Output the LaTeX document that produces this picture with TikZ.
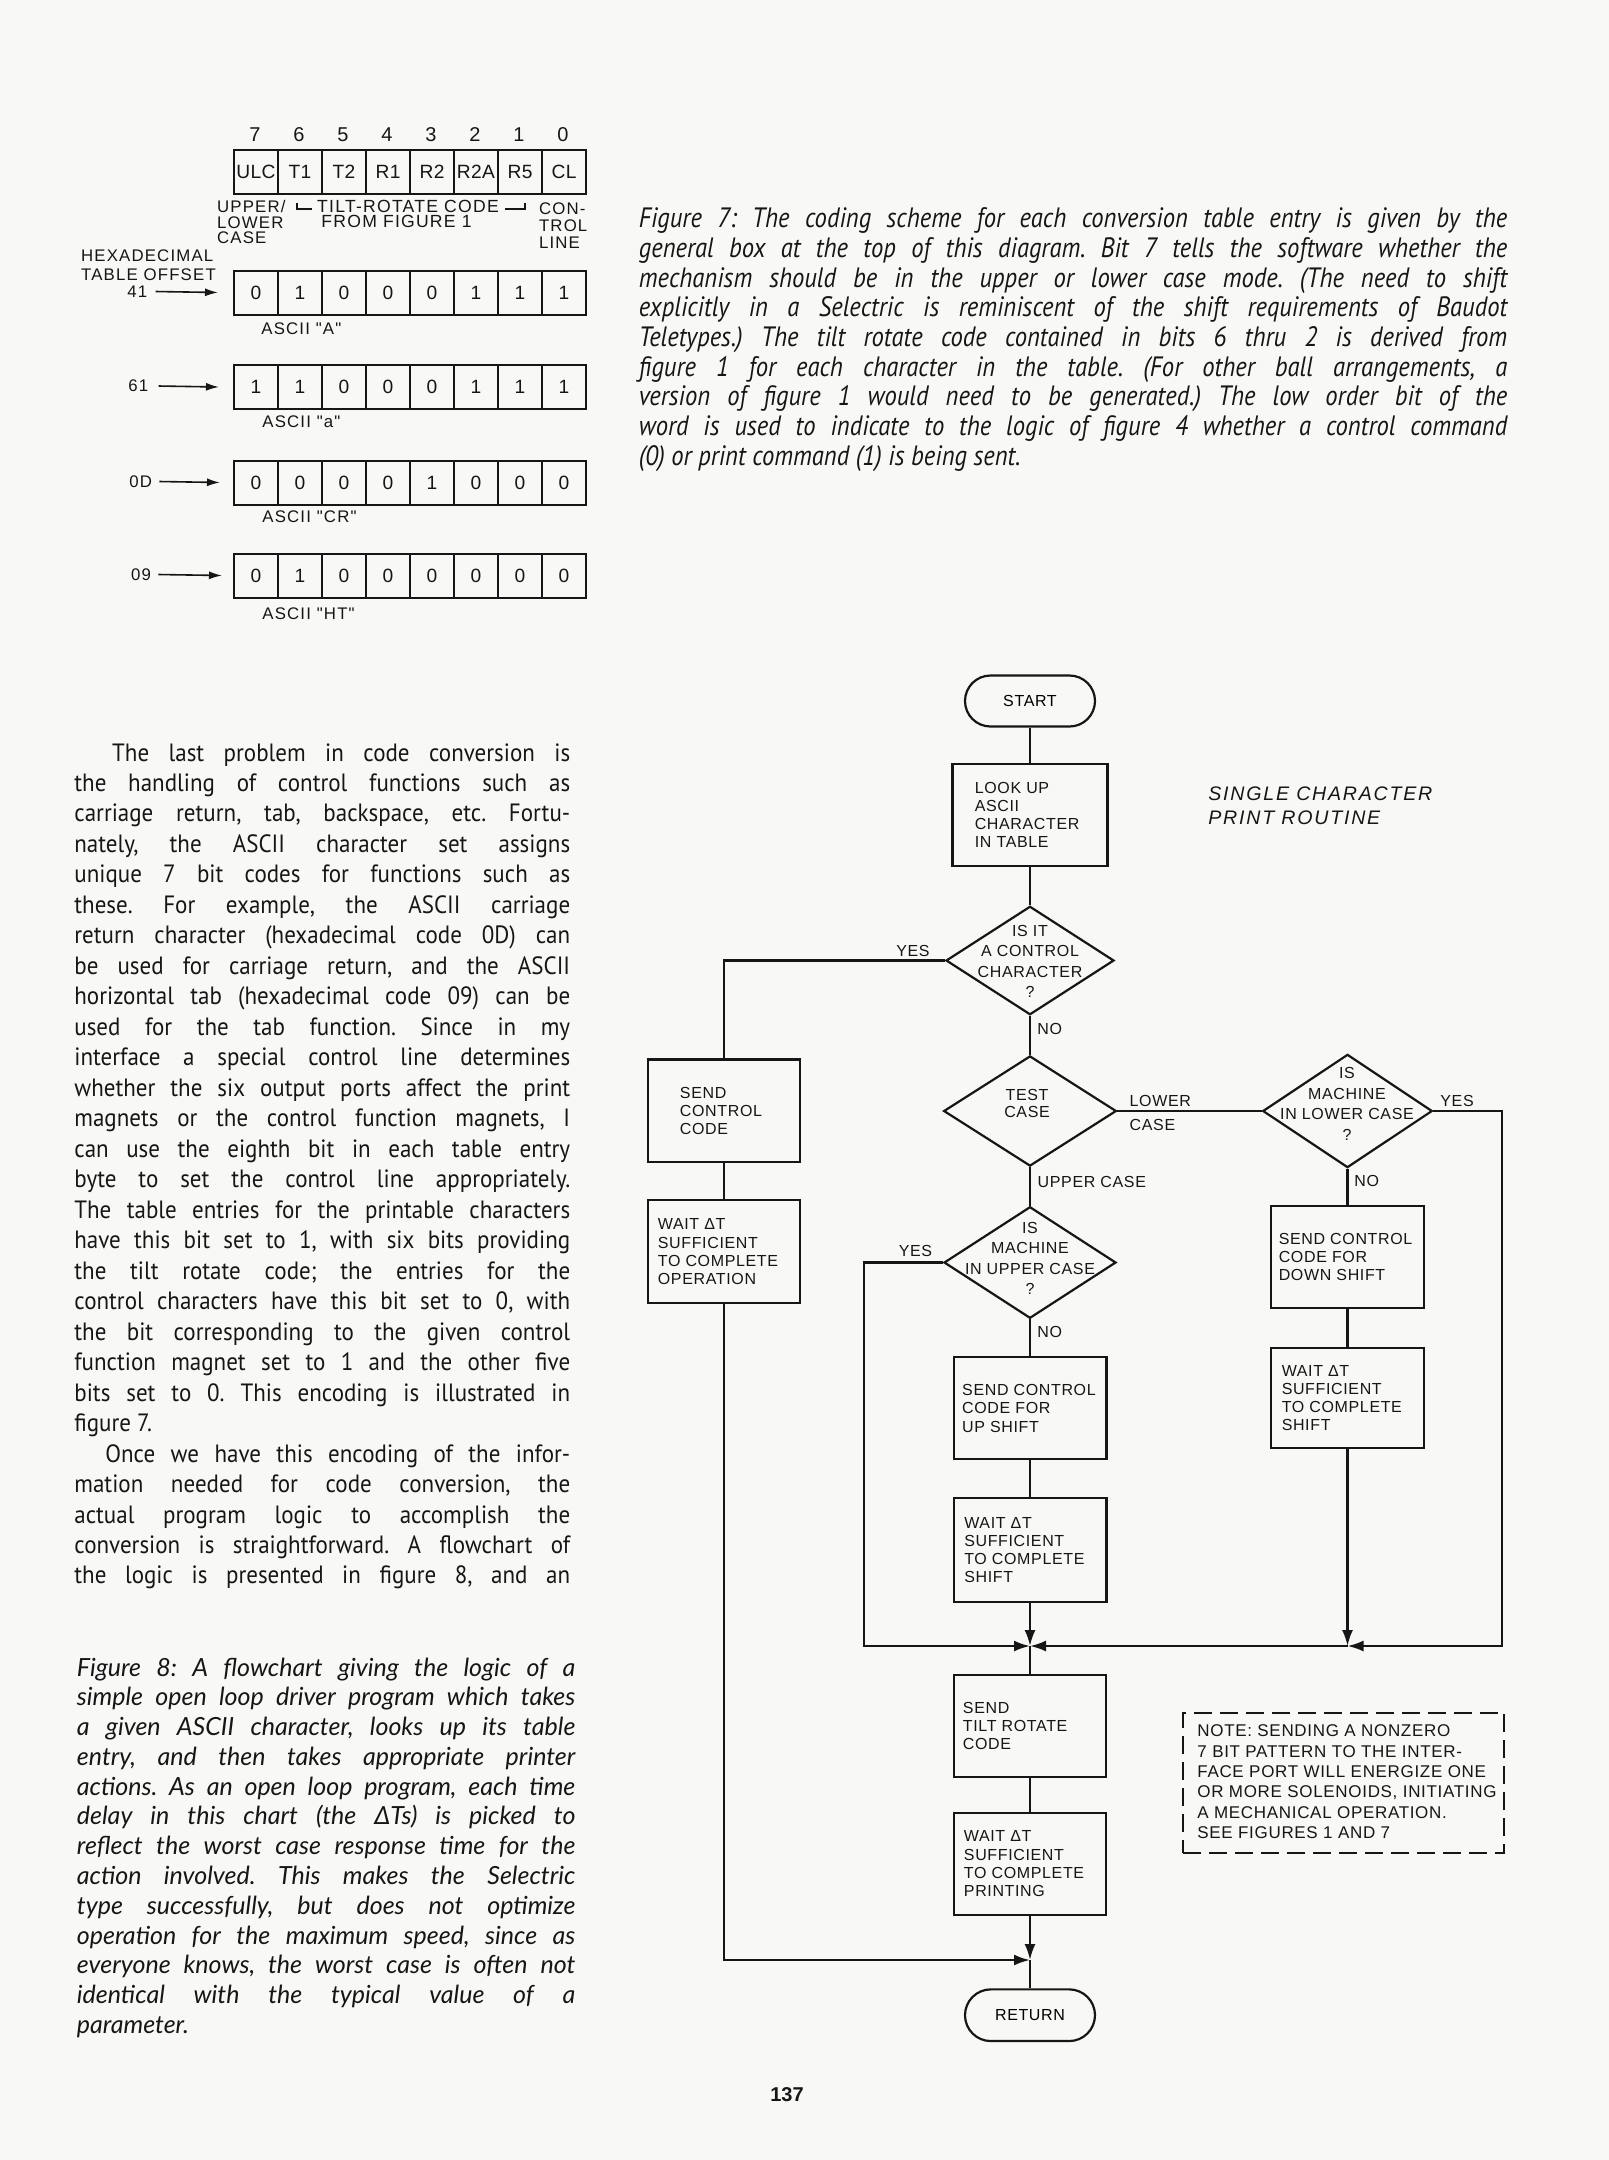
\documentclass[tikz,border=0pt]{standalone}
\usepackage{fontspec}
\usetikzlibrary{shapes.geometric,shapes.misc,arrows.meta,calc}
\setmainfont{Liberation Sans}
\newfontfamily\fcfont[LetterSpace=4]{Liberation Sans}
\newfontfamily\titlefont[LetterSpace=9]{Liberation Sans}
\newfontfamily\bitfont[LetterSpace=7]{Liberation Sans}
\newfontfamily\cellfont[LetterSpace=2]{Liberation Sans}
\newfontfamily\bodyfont[FakeStretch=0.92]{PT Sans}
\newfontfamily\capsevenfont[FakeStretch=0.88]{PT Sans}
\newfontfamily\capfont{Lato}
\newfontfamily\pgfont{Liberation Sans}
\frenchspacing
\definecolor{paper}{RGB}{248,248,246}
\definecolor{ink}{RGB}{22,22,22}
\newcommand\JL[1]{\hbox to \lw{#1}}
\newcommand\LL[1]{\hbox to \lw{#1\hfil}}
\tikzset{
 box/.style={draw=ink, line width=1.1pt, rectangle, inner sep=0pt},
 dia/.style={draw=ink, line width=1.1pt, diamond, inner sep=0pt},
 term/.style={draw=ink, line width=1.1pt, rounded rectangle, inner sep=0pt, font=\fcfont\fontsize{8}{9}\selectfont},
 fctext/.style={text=ink, font=\fcfont\fontsize{8}{9.1}\selectfont, inner sep=0pt, align=left},
 diatext/.style={text=ink, font=\fcfont\fontsize{8}{10.3}\selectfont, inner sep=0pt, align=center},
 lbl/.style={text=ink, font=\fcfont\fontsize{8}{9}\selectfont, inner sep=0pt},
 conn/.style={draw=ink, line width=1.1pt},
 arr/.style={draw=ink, line width=1.1pt, -{Latex[length=8pt,width=5.5pt]}},
 barr/.style={draw=ink, line width=0.8pt, -{Latex[length=6.5pt,width=4pt]}},
 cell/.style={draw=ink, line width=1pt, rectangle, inner sep=0pt, minimum width=22pt, minimum height=22pt, text=ink, font=\cellfont\fontsize{9.6}{9.6}\selectfont},
 bitlbl/.style={text=ink, inner sep=0pt, font=\bitfont\fontsize{8.4}{8.4}\selectfont},
 textblock/.style={text=ink, inner sep=0pt, anchor=base west},
}
\begin{document}
\begin{tikzpicture}[x=0.5pt,y=-0.5pt]
\fill[paper] (0,0) rectangle (1609,2160);
\useasboundingbox (0,0) rectangle (1609,2160);

% ---------------- Figure 7: bit diagram ----------------
\foreach \n [count=\i from 0] in {7,6,5,4,3,2,1,0}
  \node[bitlbl, font=\bitfont\fontsize{10}{10}\selectfont] (bn\i) at ({255+44*\i},135) {\n};
\foreach \t [count=\i from 0] in {ULC,T1,T2,R1,R2,R2A,R5,CL}
  \node[cell, anchor=north west] (h\i) at ({233+44*\i},148.5) {\t};
\foreach \v [count=\i from 0] in {0,1,0,0,0,1,1,1}
  \node[cell, anchor=north west] (ra\i) at ({233+44*\i},269.5) {\v};
\foreach \v [count=\i from 0] in {1,1,0,0,0,1,1,1}
  \node[cell, anchor=north west] (rb\i) at ({233+44*\i},364) {\v};
\foreach \v [count=\i from 0] in {0,0,0,0,1,0,0,0}
  \node[cell, anchor=north west] (rc\i) at ({233+44*\i},459.5) {\v};
\foreach \v [count=\i from 0] in {0,1,0,0,0,0,0,0}
  \node[cell, anchor=north west] (rd\i) at ({233+44*\i},552.5) {\v};

\node[bitlbl, anchor=west, align=left, font=\bitfont\fontsize{8.4}{7.65}\selectfont] (ulc) at (216.7,222) {UPPER/\\LOWER\\CASE};
\node[bitlbl, font=\bitfont\fontsize{8.8}{8.8}\selectfont] (tilt) at (408,206.7) {TILT-ROTATE CODE};
\node[bitlbl, font=\bitfont\fontsize{8.8}{8.8}\selectfont] (fromfig) at (396.5,221.7) {FROM FIGURE 1};
\node[bitlbl, anchor=west, align=left, font=\bitfont\fontsize{8.4}{8.5}\selectfont] (ctl) at (538.6,225.3) {CON-\\TROL\\LINE};
\draw[ink, line width=0.8pt] (297,203) -- (297,209) -- (312,209);
\draw[ink, line width=0.8pt] (505,209) -- (525,209) -- (525,203);

\node[bitlbl, anchor=west, align=left, font=\bitfont\fontsize{8.4}{9.3}\selectfont] (hex) at (80.7,265) {HEXADECIMAL\\TABLE OFFSET};
\node[bitlbl, anchor=west] (l41) at (127,291.5) {41};
\node[bitlbl, anchor=west] (l61) at (128,386) {61};
\node[bitlbl, anchor=west] (l0d) at (129,481.5) {0D};
\node[bitlbl, anchor=west] (l09) at (130.6,574.5) {09};
\draw[barr] ([xshift=4pt]l41.east) -- ([xshift=-7.5pt]ra0.west);
\draw[barr] ([xshift=5pt]l61.east) -- ([xshift=-7pt]rb0.west);
\draw[barr] ([xshift=3.5pt]l0d.east) -- ([xshift=-6.5pt]rc0.west);
\draw[barr] ([xshift=3.5pt]l09.east) -- ([xshift=-5.5pt]rd0.west);
\node[bitlbl, anchor=west] (asA) at (261,328.3) {ASCII "A"};
\node[bitlbl, anchor=west] (asa) at (262,421.7) {ASCII "a"};
\node[bitlbl, anchor=west] (ascr) at (262,516.7) {ASCII "CR"};
\node[bitlbl, anchor=west] (asht) at (262,613.3) {ASCII "HT"};

% ---------------- Figure 7 caption ----------------
\node[textblock, font=\capsevenfont\itshape\fontsize{14}{14.85}\selectfont] (cap7) at (638.5,227.7) {\def\lw{434.2pt}\vtop{\baselineskip=14.85pt
\JL{Figure 7: The coding scheme for each conversion table entry is given by the}
\JL{general box at the top of this diagram. Bit 7 tells the software whether the}
\JL{mechanism should be in the upper or lower case mode. (The need to shift}
\JL{explicitly in a Selectric is reminiscent of the shift requirements of Baudot}
\JL{Teletypes.) The tilt rotate code contained in bits 6 thru 2 is derived from}
\JL{figure 1 for each character in the table. (For other ball arrangements, a}
\JL{version of figure 1 would need to be generated.) The low order bit of the}
\JL{word is used to indicate to the logic of figure 4 whether a control command}
\LL{(0) or print command (1) is being sent.}}};

% ---------------- Body text ----------------
\node[textblock, font=\bodyfont\fontsize{12.5}{15.24}\selectfont] (body) at (74,761) {\def\lw{247.9pt}\vtop{\baselineskip=15.24pt
\JL{\kern18.9pt The last problem in code conversion is}
\JL{the handling of control functions such as}
\JL{carriage return, tab, backspace, etc. Fortu-}
\JL{nately, the ASCII character set assigns}
\JL{unique 7 bit codes for functions such as}
\JL{these. For example, the ASCII carriage}
\JL{return character (hexadecimal code 0D) can}
\JL{be used for carriage return, and the ASCII}
\JL{horizontal tab (hexadecimal code 09) can be}
\JL{used for the tab function. Since in my}
\JL{interface a special control line determines}
\JL{whether the six output ports affect the print}
\JL{magnets or the control function magnets, I}
\JL{can use the eighth bit in each table entry}
\JL{byte to set the control line appropriately.}
\JL{The table entries for the printable characters}
\JL{have this bit set to 1, with six bits providing}
\JL{the tilt rotate code; the entries for the}
\JL{control characters have this bit set to 0, with}
\JL{the bit corresponding to the given control}
\JL{function magnet set to 1 and the other five}
\JL{bits set to 0. This encoding is illustrated in}
\LL{figure 7.}
\JL{\kern15.5pt Once we have this encoding of the infor-}
\JL{mation needed for code conversion, the}
\JL{actual program logic to accomplish the}
\JL{conversion is straightforward. A flowchart of}
\JL{the logic is presented in figure 8, and an}}};

% ---------------- Figure 8 caption ----------------
\node[textblock, font=\capfont\itshape\fontsize{12.5}{14.89}\selectfont] (cap8) at (76.5,1676) {\def\lw{249.2pt}\vtop{\baselineskip=14.89pt
\JL{Figure 8: A flowchart giving the logic of a}
\JL{simple open loop driver program which takes}
\JL{a given ASCII character, looks up its table}
\JL{entry, and then takes appropriate printer}
\JL{actions. As an open loop program, each time}
\JL{delay in this chart (the ΔTs) is picked to}
\JL{reflect the worst case response time for the}
\JL{action involved. This makes the Selectric}
\JL{type successfully, but does not optimize}
\JL{operation for the maximum speed, since as}
\JL{everyone knows, the worst case is often not}
\JL{identical with the typical value of a}
\LL{parameter.}}};

\node[text=ink, inner sep=0pt, font=\pgfont\bfseries\fontsize{10}{10}\selectfont] (pgno) at (787,2095) {137};

% ---------------- Figure 8: flowchart ----------------
\node[text=ink, inner sep=0pt, anchor=west, align=left, font=\titlefont\itshape\fontsize{9.8}{11.65}\selectfont] (title) at (1208,805.7) {SINGLE CHARACTER\\PRINT ROUTINE};

\node[term, minimum width=65pt, minimum height=25.5pt] (start) at (1030,701) {START};
\node[box, minimum width=77.5pt, minimum height=51pt] (lookup) at (1030,815) {};
\node[fctext, anchor=west] (lookupT) at ([xshift=11.5pt]lookup.west) {LOOK UP\\ASCII\\CHARACTER\\IN TABLE};

\node[dia, minimum width=84pt, minimum height=54.25pt] (d1) at (1030,960.5) {};
\node[diatext] (d1T) at (1030,961.3) {IS IT\\A CONTROL\\CHARACTER\\?};

\node[box, minimum width=76.35pt, minimum height=51.3pt] (scc) at (724,1110.7) {};
\node[fctext, anchor=west] (sccT) at ([xshift=16.5pt]scc.west) {SEND\\CONTROL\\CODE};
\node[box, minimum width=76pt, minimum height=51.6pt] (wop) at (724,1251.7) {};
\node[fctext, anchor=west] (wopT) at ([xshift=5.3pt]wop.west) {WAIT ΔT\\SUFFICIENT\\TO COMPLETE\\OPERATION};

\node[dia, minimum width=86.35pt, minimum height=55.1pt] (tc) at (1030,1111) {};
\node[diatext, font=\fcfont\fontsize{8}{8.85}\selectfont] (tcT) at (1027,1103.5) {TEST\\CASE};

\node[dia, minimum width=84.8pt, minimum height=56.65pt] (d3) at (1347.5,1111) {};
\node[diatext] (d3T) at (1347,1104) {IS\\MACHINE\\IN LOWER CASE\\?};

\node[box, minimum width=76.3pt, minimum height=51.15pt] (dsh) at (1347.5,1257.2) {};
\node[fctext, anchor=west] (dshT) at ([xshift=4.15pt]dsh.west) {SEND CONTROL\\CODE FOR\\DOWN SHIFT};
\node[box, minimum width=76.65pt, minimum height=50.3pt] (wds) at (1347.5,1398) {};
\node[fctext, anchor=west] (wdsT) at ([xshift=5.8pt]wds.west) {WAIT ΔT\\SUFFICIENT\\TO COMPLETE\\SHIFT};

\node[dia, minimum width=86pt, minimum height=55.8pt] (d2) at (1030,1262.5) {};
\node[diatext] (d2T) at (1030,1258.3) {IS\\MACHINE\\IN UPPER CASE\\?};

\node[box, minimum width=76.4pt, minimum height=51pt] (ush) at (1030,1408.3) {};
\node[fctext, anchor=west] (ushT) at ([xshift=4.65pt]ush.west) {SEND CONTROL\\CODE FOR\\UP SHIFT};
\node[box, minimum width=76.4pt, minimum height=52.3pt] (wus) at (1030,1550) {};
\node[fctext, anchor=west] (wusT) at ([xshift=5.7pt]wus.west) {WAIT ΔT\\SUFFICIENT\\TO COMPLETE\\SHIFT};

\node[box, minimum width=76.35pt, minimum height=50.85pt] (str) at (1030,1725.8) {};
\node[fctext, anchor=west] (strT) at ([xshift=5pt]str.west) {SEND\\TILT ROTATE\\CODE};
\node[box, minimum width=76.35pt, minimum height=51.15pt] (wpr) at (1030,1863.8) {};
\node[fctext, anchor=west] (wprT) at ([xshift=5.5pt]wpr.west) {WAIT ΔT\\SUFFICIENT\\TO COMPLETE\\PRINTING};

\node[term, minimum width=65pt, minimum height=25.85pt] (ret) at (1030,2015.2) {RETURN};

\node[draw=ink, line width=1pt, dash pattern=on 9pt off 4pt, rectangle, inner sep=0pt, minimum width=160.5pt, minimum height=70.3pt] (note) at (1343.7,1783) {};
\node[fctext, font=\fcfont\fontsize{8.5}{10.2}\selectfont, anchor=west] (noteT) at ([xshift=7.4pt,yshift=0.6pt]note.west) {NOTE: SENDING A NONZERO\\7 BIT PATTERN TO THE INTER-\\FACE PORT WILL ENERGIZE ONE\\OR MORE SOLENOIDS, INITIATING\\A MECHANICAL OPERATION.\\SEE FIGURES 1 AND 7};

% coordinates for junctions
\coordinate (m1) at (1030,1646);
\coordinate (m3) at (1347.5,1646);
\coordinate (c2) at (864,1646);
\coordinate (c3) at (1502,1646);
\coordinate (m2) at (1030,1960);
\coordinate (c1) at (724,1960);

% connectors
\draw[conn] (start.south) -- (lookup.north);
\draw[conn] (lookup.south) -- (d1.north);
\draw[conn] (d1.west) -| (scc.north);
\draw[conn] (d1.south) -- (tc.north);
\draw[conn] (tc.east) -- (d3.west);
\draw[conn] (tc.south) -- (d2.north);
\draw[conn] (d3.south) -- (dsh.north);
\draw[conn] (dsh.south) -- (wds.north);
\draw[conn] (d2.south) -- (ush.north);
\draw[conn] (ush.south) -- (wus.north);
\draw[arr] (wus.south) -- (m1);
\draw[arr] (d2.west) -| (c2) -- (m1);
\draw[arr] (d3.east) -| (c3) -- (m3);
\draw[arr] (wds.south) -- (m3);
\draw[arr] (m3) -- (m1);
\draw[conn] (m1) -- (str.north);
\draw[conn] (str.south) -- (wpr.north);
\draw[arr] (wpr.south) -- (m2);
\draw[conn] (scc.south) -- (wop.north);
\draw[arr] (wop.south) -- (c1) -- (m2);
\draw[conn] (m2) -- (ret.north);

% labels
\node[lbl] (yes1) at (913,951) {YES};
\node[lbl, anchor=west] (no1) at (1037,1028.5) {NO};
\node[lbl, anchor=west] (lower) at (1129.3,1101) {LOWER};
\node[lbl, anchor=west] (lcase) at (1129.3,1125) {CASE};
\node[lbl, anchor=west] (ucase) at (1037.3,1181.7) {UPPER CASE};
\node[lbl, anchor=west] (yes3) at (1440,1100.7) {YES};
\node[lbl, anchor=west] (no3) at (1354,1180.7) {NO};
\node[lbl] (yes2) at (915.5,1250.7) {YES};
\node[lbl, anchor=west] (no2) at (1037,1331.7) {NO};
\end{tikzpicture}
\end{document}
